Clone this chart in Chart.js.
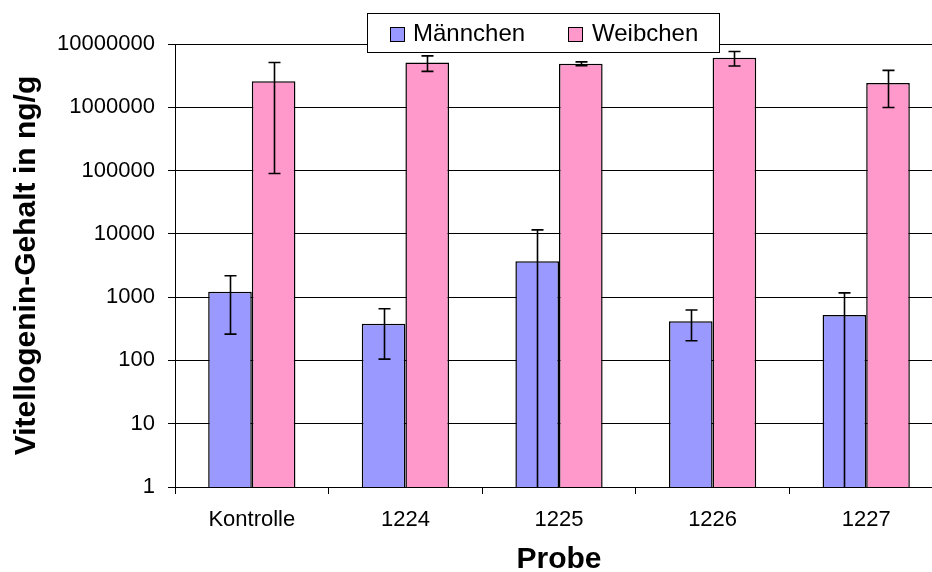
<!DOCTYPE html>
<html><head><meta charset="utf-8">
<script src="https://cdn.jsdelivr.net/npm/chart.js@4/dist/chart.umd.min.js"></script>
<style>html,body{margin:0;padding:0;background:#fff;overflow:hidden;width:932px;height:572px}canvas{display:block}</style>
</head><body>
<canvas id="c" width="944" height="572"></canvas>
<script>
const categories = ['Kontrolle', '1224', '1225', '1226', '1227'];
const seriesNames = ['Männchen', 'Weibchen'];
const maleValues = [1220, 380, 3680, 415, 520];
const maleSD = [960, 275, 7900, 210, 650];
const femaleValues = [2590000, 5100000, 4870000, 6050000, 2410000];
const femaleSD = [2500000, 1400000, 350000, 1550000, 1420000];
const yTicks = [1, 10, 100, 1000, 10000, 100000, 1000000, 10000000];
const xTitle = 'Probe';
const yTitle = 'Vitellogenin-Gehalt in ng/g';

Chart.defaults.font.family = "'Liberation Sans', Arial, sans-serif";
Chart.defaults.color = '#000';

const errorBars = {
  id: 'errorBars',
  afterDatasetsDraw(chart) {
    const ctx = chart.ctx, y = chart.scales.y, area = chart.chartArea;
    chart.data.datasets.forEach((ds, i) => {
      const meta = chart.getDatasetMeta(i);
      meta.data.forEach((bar, j) => {
        const v = ds.data[j], sd = ds.errors[j];
        const hi = v + sd, lo = v - sd;
        const yHi = y.getPixelForValue(hi);
        const yLo = lo > 0 ? y.getPixelForValue(lo) : area.bottom;
        const x = Math.round(bar.x) + 0.5;
        ctx.save();
        ctx.strokeStyle = '#000';
        ctx.lineWidth = 1.6;
        ctx.beginPath();
        ctx.moveTo(x, yHi); ctx.lineTo(x, yLo);
        ctx.moveTo(x - 6, yHi); ctx.lineTo(x + 6, yHi);
        if (lo > 0) { ctx.moveTo(x - 6, yLo); ctx.lineTo(x + 6, yLo); }
        ctx.stroke();
        ctx.restore();
      });
    });
  }
};

const boxLegend = {
  id: 'boxLegend',
  afterDraw(chart) {
    const ctx = chart.ctx;
    ctx.save();
    ctx.fillStyle = '#fff';
    ctx.fillRect(367, 13, 352, 39);
    ctx.strokeStyle = '#000';
    ctx.lineWidth = 1;
    ctx.strokeRect(367.5, 13.5, 352, 39);
    const pos = [{ x: 390, tx: 413 }, { x: 568, tx: 592 }];
    ctx.font = "24px 'Liberation Sans', Arial, sans-serif";
    ctx.textBaseline = 'alphabetic';
    chart.data.datasets.forEach((ds, i) => {
      const p = pos[i];
      ctx.fillStyle = ds.backgroundColor;
      ctx.fillRect(p.x, 27, 14, 14);
      ctx.strokeStyle = '#000';
      ctx.strokeRect(p.x + 0.5, 27.5, 14, 14);
      ctx.fillStyle = '#000';
      ctx.fillText(ds.label, p.tx, 41);
    });
    ctx.restore();
  }
};

new Chart(document.getElementById('c'), {
  type: 'bar',
  data: {
    labels: categories,
    datasets: [
      { label: seriesNames[0], data: maleValues, errors: maleSD, backgroundColor: '#9999FF', borderColor: '#000', borderWidth: 1.5 },
      { label: seriesNames[1], data: femaleValues, errors: femaleSD, backgroundColor: '#FF99CC', borderColor: '#000', borderWidth: 1.5 }
    ]
  },
  options: {
    responsive: false,
    animation: false,
    events: [],
    layout: { padding: { top: 44, right: 1, bottom: 0, left: 0 }, autoPadding: false },
    datasets: { bar: { categoryPercentage: 0.568, barPercentage: 1.0 } },
    plugins: { legend: { display: false }, tooltip: { enabled: false } },
    scales: {
      x: {
        grid: { display: true, drawOnChartArea: false, drawTicks: true, tickLength: 7, color: '#000', offset: true },
        border: { color: '#000', width: 1 },
        ticks: { color: '#000', font: { size: 22 }, padding: 13, maxRotation: 0 },
        title: { display: true, text: xTitle, color: '#000', font: { size: 30, weight: 'bold', lineHeight: 0.8 }, padding: { top: 0, bottom: 0 } },
        afterFit(s) { s.height = 85; }
      },
      y: {
        type: 'logarithmic', min: 1, max: 10000000,
        grid: { color: '#000', lineWidth: 1, tickLength: 7, drawTicks: true },
        border: { color: '#000', width: 1 },
        ticks: { color: '#000', font: { size: 22 }, padding: 13, callback: (v) => String(v) },
        afterBuildTicks(s) { s.ticks = yTicks.map(v => ({ value: v })); },
        title: { display: true, text: yTitle, color: '#000', font: { size: 30, weight: 'bold', lineHeight: 1.2 }, padding: { top: 9, bottom: 0 } },
        afterFit(s) { s.width = 175; }
      }
    }
  },
  plugins: [errorBars, boxLegend]
});
</script>
</body></html>
